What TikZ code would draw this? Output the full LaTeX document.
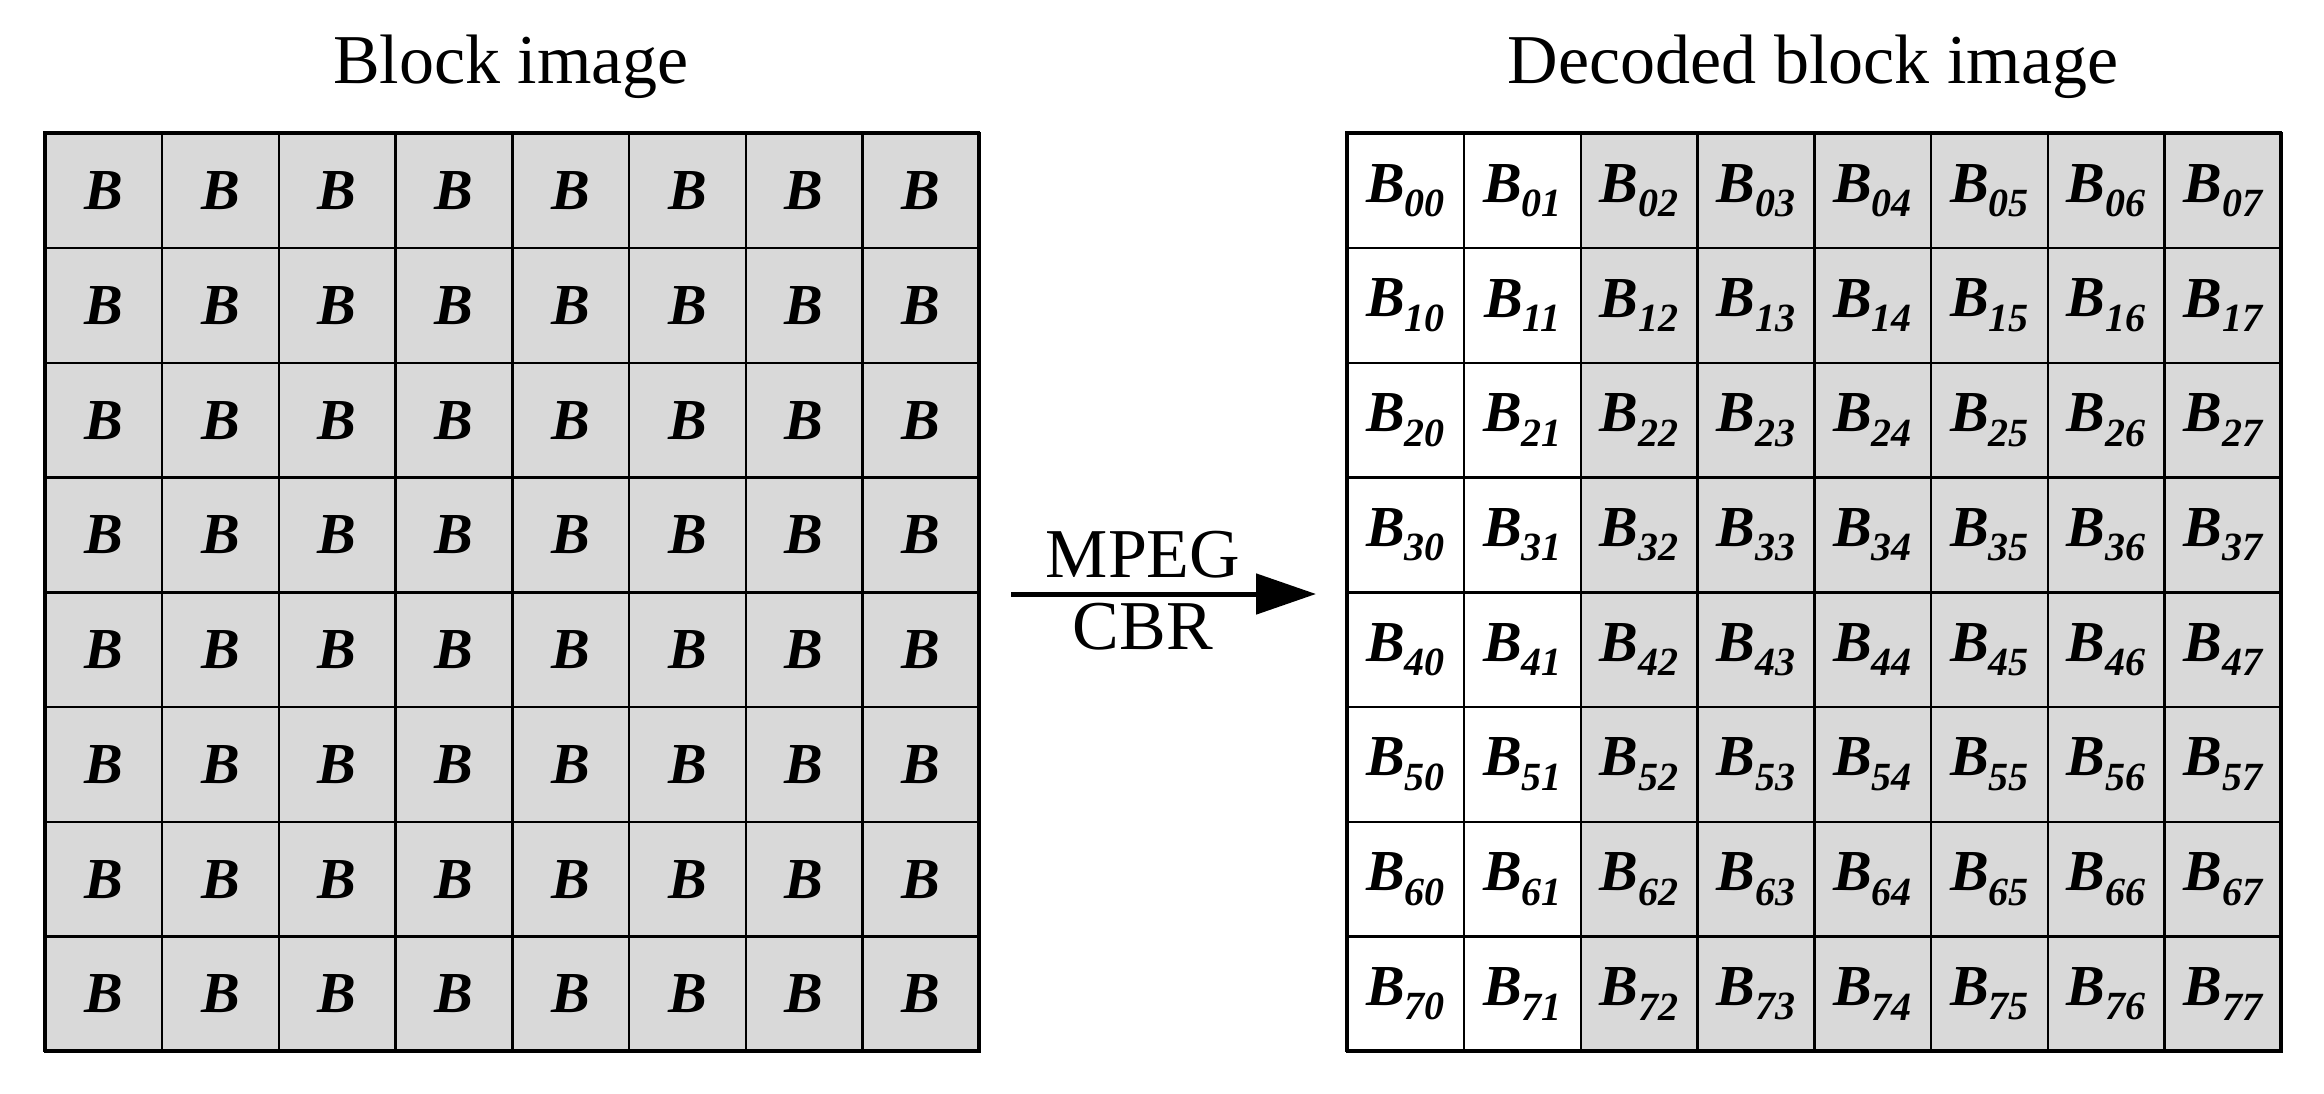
\documentclass[tikz,border=0pt]{standalone}
\usepackage{fontspec}
\setmainfont{Liberation Serif}
\usetikzlibrary{arrows.meta}
\definecolor{cellgray}{HTML}{D9D9D9}
\begin{document}
\begin{tikzpicture}[x=1pt,y=-1pt,
  cell/.style={draw=black,line width=2.5pt,minimum width=116.75pt,minimum height=114.75pt,inner sep=0pt,anchor=north west,
    font=\fontsize{58}{60}\selectfont\bfseries\itshape},
  title/.style={font=\fontsize{70}{72}\selectfont},
  lab/.style={font=\fontsize{70}{72}\selectfont}]
\useasboundingbox (0,0) rectangle (2324,1093);
\node[title] (t1) at (511,67) {Block image};
\node[title] (t2) at (1813,67) {Decoded block image};
\foreach \r in {0,...,7}{
  \foreach \c in {0,...,7}{
    \node[cell,fill=cellgray] (L\r\c) at (44+116.75*\c,132+114.75*\r) {B};
    \ifnum\c<2
      \node[cell,fill=white] (R\r\c) at (1346+116.75*\c,132+114.75*\r) {B\raisebox{-0.25em}{\fontsize{40}{42}\selectfont\r\c}};
    \else
      \node[cell,fill=cellgray] (R\r\c) at (1346+116.75*\c,132+114.75*\r) {B\raisebox{-0.25em}{\fontsize{40}{42}\selectfont\r\c}};
    \fi
  }}
\draw[line width=3pt] (44,132) rectangle (978,1050);
\draw[line width=3pt] (1346,132) rectangle (2280,1050);
\coordinate (a1) at (1011,594);
\coordinate (a2) at (1316,594);
\draw[line width=5pt,-{Triangle[length=60pt,width=40pt]}] (a1) -- (a2);
\node[lab,anchor=south] (mp) at (1143,582) {MPEG};
\node[lab,anchor=north] (cb) at (1143,600) {CBR};
\end{tikzpicture}
\end{document}
